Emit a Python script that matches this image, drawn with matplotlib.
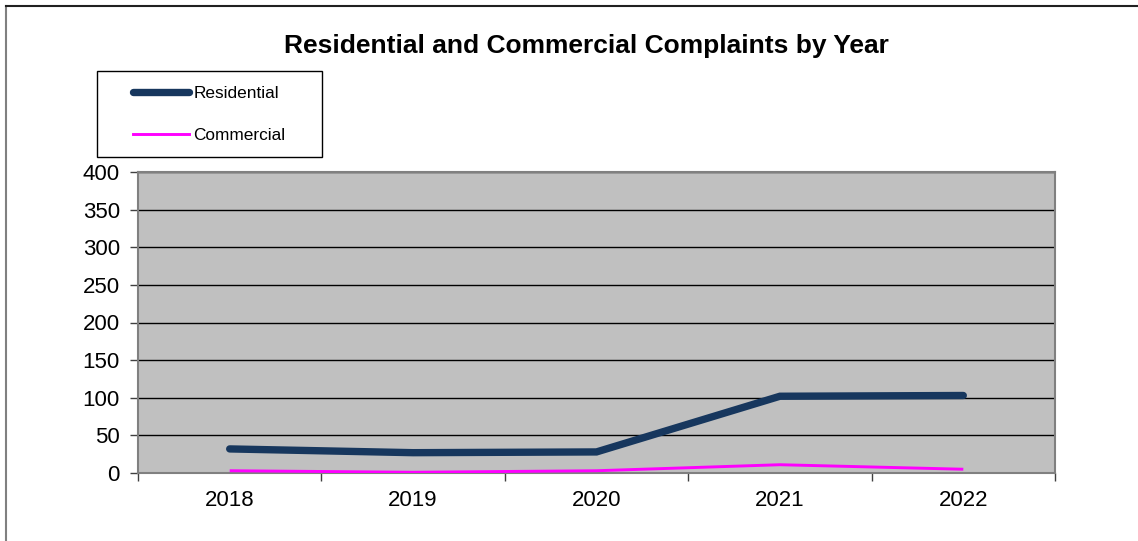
import matplotlib
matplotlib.use("Agg")
import matplotlib.pyplot as plt
from matplotlib.lines import Line2D
from matplotlib.patches import Rectangle
import numpy as np

plt.rcParams['font.family'] = ['Liberation Sans', 'DejaVu Sans']

years = ["2018", "2019", "2020", "2021", "2022"]
residential = [32, 27, 28, 102, 103]
commercial = [3, 1, 3, 11, 5]
y_ticks = [0, 50, 100, 150, 200, 250, 300, 350, 400]

W, H = 1138, 541
fig = plt.figure(figsize=(W / 100, H / 100), dpi=100)
fig.patch.set_facecolor('white')

# outer border (partially cropped)
fig.add_artist(Line2D([6 / W, 6 / W], [0, 1 - 6 / H], color='#808080', lw=1.5, transform=fig.transFigure))
fig.add_artist(Line2D([6 / W, 1], [1 - 6 / H, 1 - 6 / H], color='#202020', lw=1.5, transform=fig.transFigure))

ax = fig.add_axes([138 / W, 1 - 473 / H, (1055 - 138) / W, (473 - 172) / H])
ax.set_facecolor('#C0C0C0')

x = np.arange(len(years))
ax.plot(x, residential, color='#17375E', lw=5.3, solid_capstyle='round', solid_joinstyle='miter', label='Residential', zorder=3)
ax.plot(x, commercial, color='#FF00FF', lw=2.1, solid_capstyle='butt', label='Commercial', zorder=3)

ax.set_xlim(-0.5, len(years) - 0.5)
ax.set_ylim(0, 400)
ax.set_yticks(y_ticks)
ax.set_yticklabels([str(v) for v in y_ticks], fontsize=16)
ax.set_xticks(x)
ax.set_xticklabels(years, fontsize=16)
ax.set_xticks(np.arange(-0.5, len(years), 1.0), minor=True)
ax.tick_params(axis='x', which='major', length=0, pad=12)
ax.tick_params(axis='x', which='minor', length=6, width=1, color='#404040', direction='out')
ax.tick_params(axis='y', length=6, width=1, color='#404040', direction='out', pad=7)

for v in y_ticks[1:]:
    ax.axhline(v, color='black', lw=1, zorder=1)

for s in ax.spines.values():
    s.set_color('#808080')
    s.set_linewidth(1.5)

fig.text(586 / W, 1 - 46 / H, "Residential and Commercial Complaints by Year",
         ha='center', va='center', fontsize=19, fontweight='bold')

# legend frame
fig.add_artist(Rectangle((97 / W, 1 - 157 / H), (322 - 97) / W, (157 - 71) / H,
                         transform=fig.transFigure, facecolor='white',
                         edgecolor='black', lw=1, zorder=2))

handles = [Line2D([], [], color='#17375E', lw=5.3, solid_capstyle='round'),
           Line2D([], [], color='#FF00FF', lw=2.1)]
leg = fig.legend(handles, ['Residential', 'Commercial'], loc='upper left',
                 bbox_to_anchor=(133 / W, 1 - 86 / H), bbox_transform=fig.transFigure,
                 fontsize=12.4, frameon=False,
                 handlelength=3.25, handletextpad=0.25, labelspacing=1.55,
                 borderpad=0, borderaxespad=0)
leg.set_zorder(3)

fig.savefig('out.png', dpi=100)
